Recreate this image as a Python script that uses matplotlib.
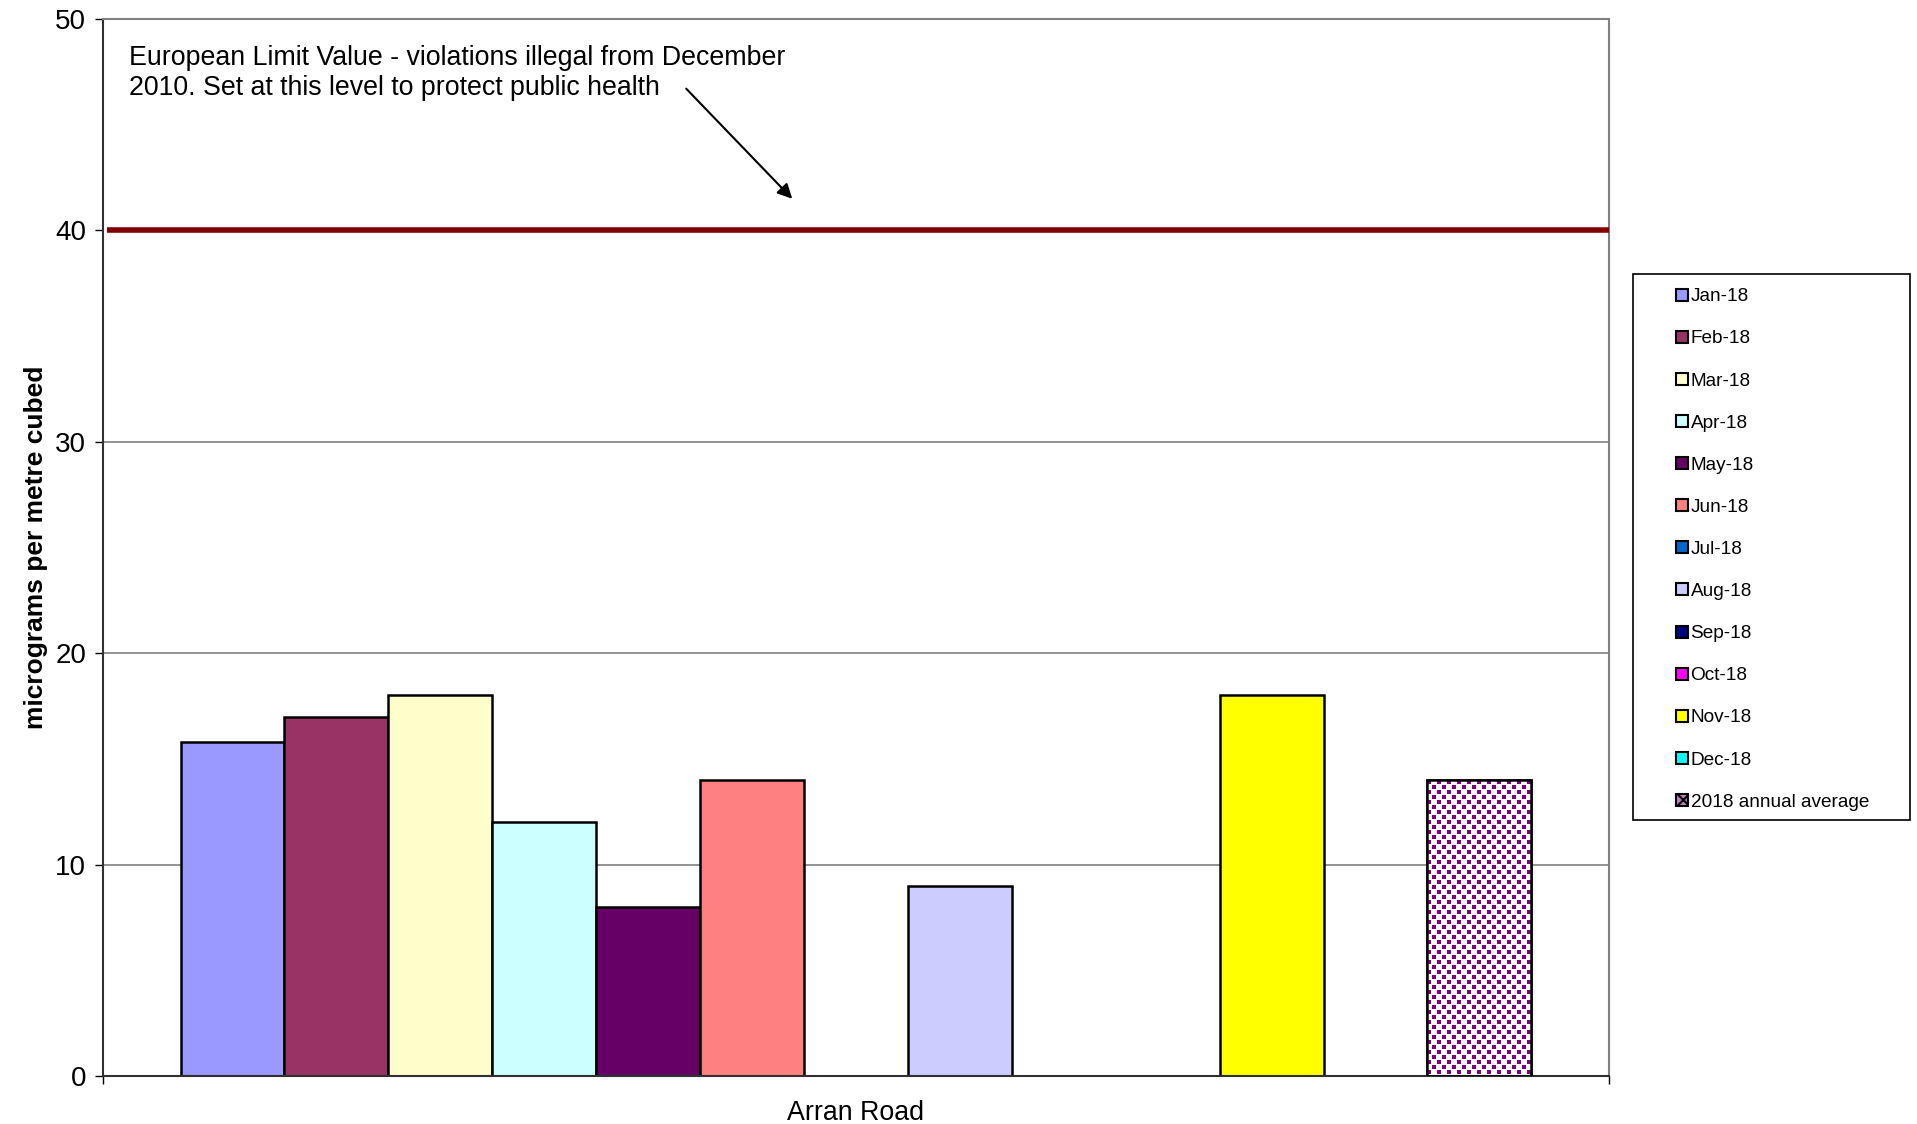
import numpy as np
import matplotlib
matplotlib.use("Agg")
import matplotlib.pyplot as plt
from matplotlib.patches import Patch, Rectangle
from matplotlib.colors import ListedColormap

plt.rcParams['font.family'] = ['Liberation Sans', 'DejaVu Sans']
plt.rcParams['hatch.linewidth'] = 1.5

# Data - monthly NO2 at Arran Road (missing months = nan)
months = ['Jan-18', 'Feb-18', 'Mar-18', 'Apr-18', 'May-18', 'Jun-18',
          'Jul-18', 'Aug-18', 'Sep-18', 'Oct-18', 'Nov-18', 'Dec-18']
values = [15.8, 17, 18, 12, 8, 14, np.nan, 9, np.nan, np.nan, 18, np.nan]
month_colors = ['#9999FF', '#993366', '#FFFFCC', '#CCFFFF', '#660066', '#FF8080',
                '#0066CC', '#CCCCFF', '#000080', '#FF00FF', '#FFFF00', '#00FFFF']
avg_label = '2018 annual average'
avg_value = 14
site = 'Arran Road'
limit_value = 40
limit_text = ('European Limit Value - violations illegal from December\n'
              '2010. Set at this level to protect public health')

fig = plt.figure(figsize=(19.17, 11.24), dpi=100)
ax_rect = [0.0537, 0.0427, 0.7856, 0.9404]
ax = fig.add_axes(ax_rect)

n_bars = len(months) + 1
w = 0.897 / n_bars
pos = (np.arange(n_bars) - (n_bars - 1) / 2) * w

# gridlines
for g in [10, 20, 30]:
    ax.axhline(g, color='#808080', lw=1.2, zorder=0)

# monthly bars
for i, (v, c) in enumerate(zip(values, month_colors)):
    if not np.isnan(v):
        ax.bar(pos[i], v, width=w, color=c, edgecolor='black', lw=1.8, zorder=2)

# annual average - purple dot texture clipped to the bar
avg_bar = ax.bar(pos[-1], avg_value, width=w, color='white', edgecolor='black',
                 lw=1.8, zorder=2)[0]
px_w = int(round(w * ax_rect[2] * 1917))
px_h = int(round(avg_value / 50 * ax_rect[3] * 1124))
yy, xx = np.mgrid[0:px_h, 0:px_w]
row = yy // 5
tex = (((xx + (row % 2) * 5) % 10) < 4) & ((yy % 5) < 4)
tex = tex.astype(float)
im = ax.imshow(tex, cmap=ListedColormap(['white', '#800080']), vmin=0, vmax=1,
               extent=(pos[-1] - w / 2, pos[-1] + w / 2, 0, avg_value),
               interpolation='nearest', aspect='auto', zorder=2.5)
im.set_clip_path(avg_bar)
ax.bar(pos[-1], avg_value, width=w, fill=False, edgecolor='black', lw=1.8, zorder=3)

# limit line
ax.plot([-0.497, 0.5], [limit_value, limit_value], color='#800000', lw=4, zorder=4,
        solid_capstyle='butt', clip_on=False)

ax.text(-0.483, 48.75, limit_text, fontsize=19.3, va='top', ha='left', linespacing=1.2)
ax.annotate('', xy=(-0.041, 41.4), xytext=(-0.114, 46.8),
            arrowprops=dict(arrowstyle='-|>', color='black', lw=1.5, mutation_scale=22))

ax.set_xlim(-0.5, 0.5)
ax.set_ylim(0, 50)
ax.set_yticks([0, 10, 20, 30, 40, 50])
ax.tick_params(axis='y', labelsize=20, length=6, width=1, direction='out', pad=6)
ax.set_xticks([0])
ax.set_xticklabels([site])
ax.tick_params(axis='x', which='major', length=0, labelsize=19.3, pad=17)
ax.set_xticks([-0.5, 0.5], minor=True)
ax.tick_params(axis='x', which='minor', length=6, width=1, direction='out')

ax.set_ylabel('micrograms per metre cubed', fontsize=19, fontweight='bold', labelpad=5)

for side in ['top', 'right']:
    ax.spines[side].set_color('#808080')
    ax.spines[side].set_linewidth(1.5)
for side in ['left', 'bottom']:
    ax.spines[side].set_color('#303030')
    ax.spines[side].set_linewidth(1.5)

# legend
handles = [Patch(facecolor=c, edgecolor='black', lw=1.5) for c in month_colors]
handles.append(Patch(facecolor='white', edgecolor='#800080', hatch='xx', lw=1.5))
labels = months + [avg_label]

fig.patches.append(Rectangle((1633 / 1917, 1 - 820 / 1124), 277 / 1917, 546 / 1124,
                             transform=fig.transFigure, fill=False,
                             edgecolor='black', lw=1.2))
leg = fig.legend(handles, labels, loc='upper left',
                 bbox_to_anchor=(1663 / 1917, 1 - 275 / 1124),
                 frameon=False, fontsize=13.7, handlelength=0.6, handleheight=0.6,
                 handletextpad=0.15, labelspacing=1.32, borderpad=0.2)
for h in leg.legend_handles:
    h.set_edgecolor('black')
leg.legend_handles[-1].set_facecolor('#C080C0')

fig.savefig('out.png', dpi=100)
